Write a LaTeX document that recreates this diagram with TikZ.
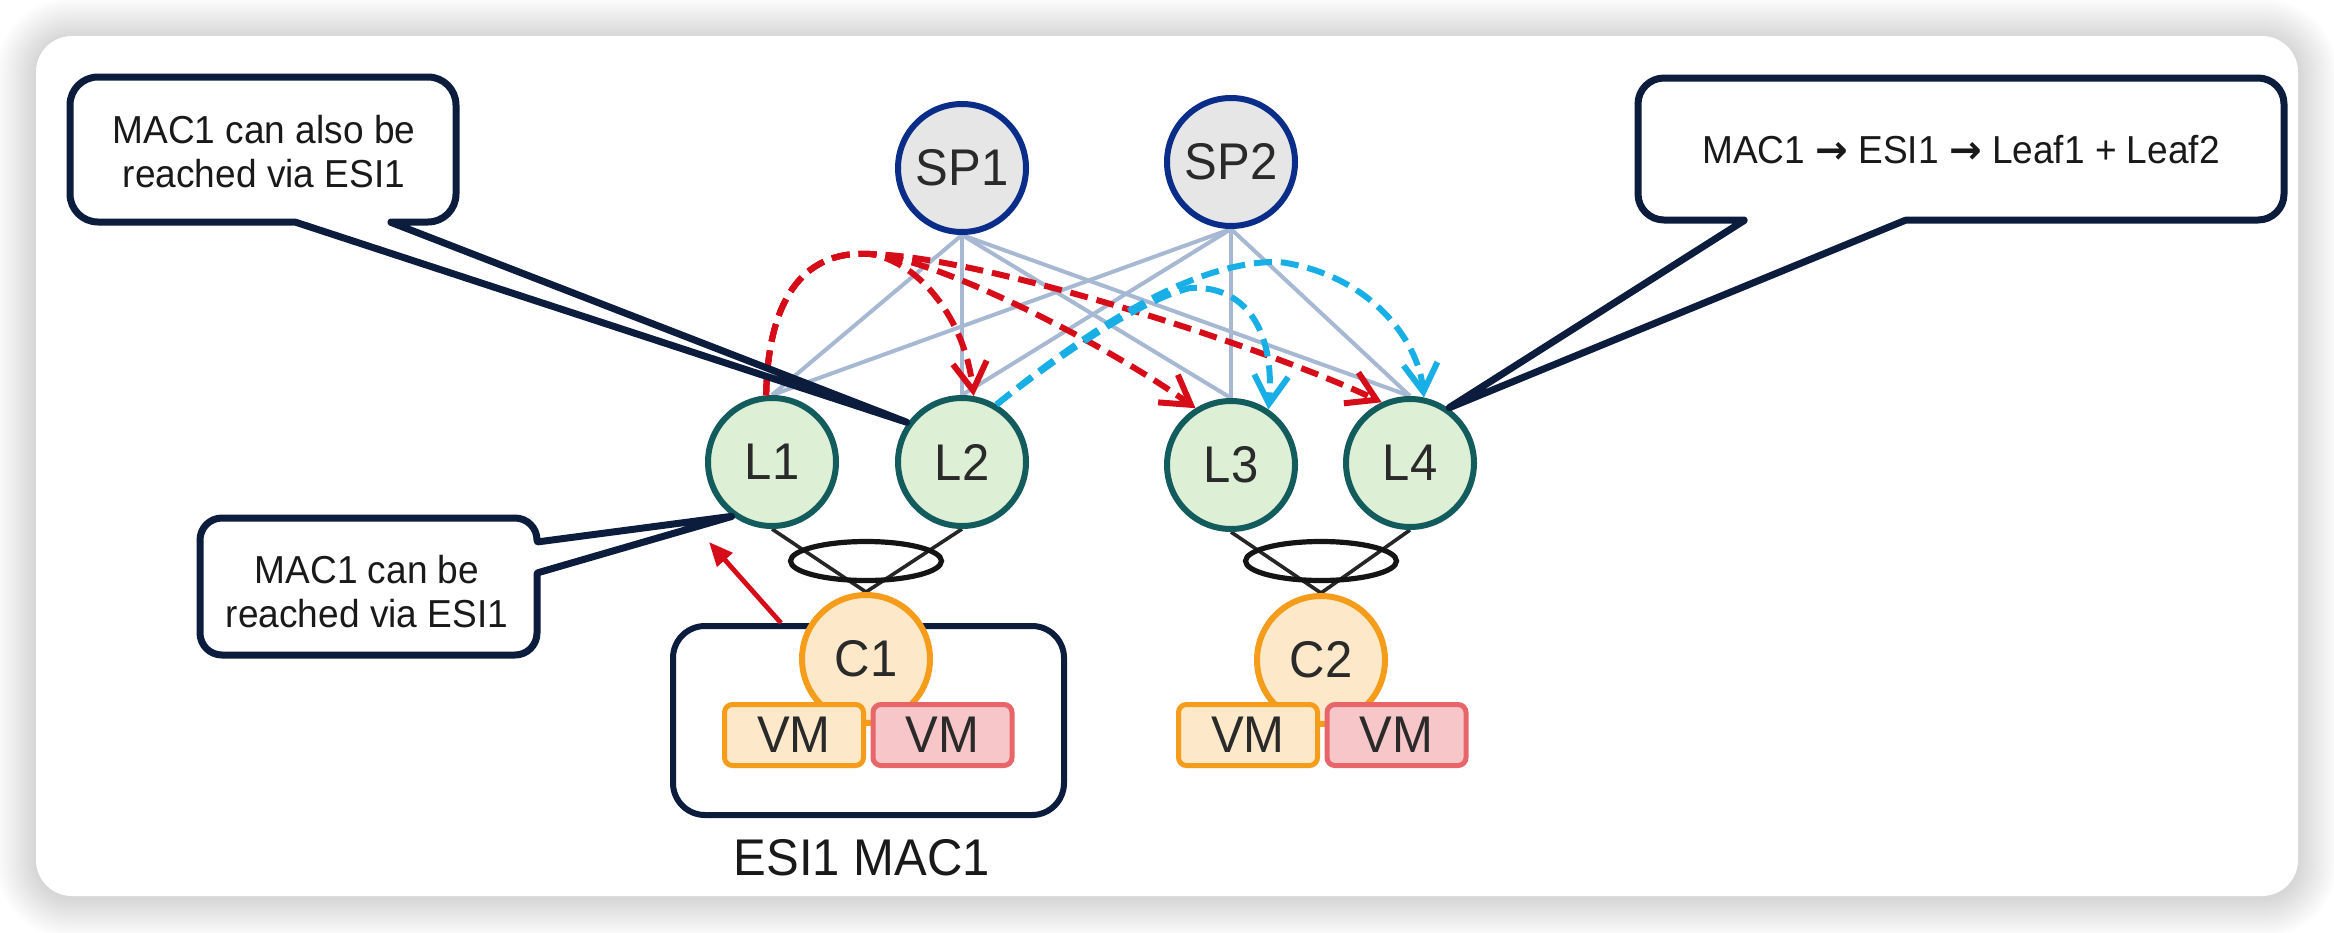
\documentclass[tikz,border=0pt]{standalone}
\usepackage{fontspec}
\setmainfont{Liberation Sans}[FakeStretch=0.95]
\newfontfamily\arrowfont{DejaVu Sans}
\usetikzlibrary{arrows.meta,shapes.geometric}
\pgfdeclarelayer{bgcard}
\pgfdeclarelayer{bglines}
\pgfsetlayers{bgcard,bglines,main}
\definecolor{spfill}{HTML}{E6E6E6}
\definecolor{spdraw}{HTML}{0B2D8A}
\definecolor{lffill}{HTML}{DDEFD5}
\definecolor{lfdraw}{HTML}{135C5E}
\definecolor{orfill}{HTML}{FDE9C9}
\definecolor{ordraw}{HTML}{F59C1A}
\definecolor{rdfill}{HTML}{F6C6C8}
\definecolor{rddraw}{HTML}{E8666A}
\definecolor{uplinkc}{HTML}{A6B8D2}
\definecolor{redc}{HTML}{D70C19}
\definecolor{bluec}{HTML}{18AEE6}
\definecolor{navy}{HTML}{0C1C3D}
\definecolor{txt}{HTML}{2A2A2A}
\begin{document}
\begin{tikzpicture}[x=0.5pt,y=-0.5pt,
  nodefont/.style={font=\fontsize{25.8}{30}\selectfont, text=txt},
  spine/.style={circle, draw=spdraw, fill=spfill, line width=3pt, minimum size=64pt, inner sep=0pt, nodefont},
  leaf/.style={circle, draw=lfdraw, fill=lffill, line width=3pt, minimum size=64pt, inner sep=0pt, nodefont},
  cnode/.style={circle, draw=ordraw, fill=orfill, line width=3pt, minimum size=64pt, inner sep=0pt, nodefont},
  vmo/.style={rectangle, rounded corners=4pt, draw=ordraw, fill=orfill, line width=2.5pt, minimum width=69.5pt, minimum height=30.5pt, inner sep=0pt, nodefont},
  vmr/.style={rectangle, rounded corners=4pt, draw=rddraw, fill=rdfill, line width=2.5pt, minimum width=69.5pt, minimum height=30.5pt, inner sep=0pt, nodefont},
  esibox/.style={rectangle, rounded corners=16pt, draw=navy, line width=3pt, minimum width=195.5pt, minimum height=94.5pt, inner sep=0pt},
  pchan/.style={ellipse, draw=black!92, line width=2.6pt, minimum width=75.5pt, minimum height=19.5pt, inner sep=0pt},
  uplink/.style={draw=uplinkc, line width=2pt},
  member/.style={draw=black!85, line width=1.8pt},
  reddash/.style={draw=redc, line width=3pt, dash pattern=on 9pt off 4.5pt, -{Straight Barb[length=14pt,width=17pt]}},
  bluedash/.style={draw=bluec, line width=3pt, dash pattern=on 9pt off 4.5pt, -{Straight Barb[length=14pt,width=17pt]}},
  redsolid/.style={draw=redc, line width=2.4pt, -{Triangle[length=12pt,width=10pt]}},
  callout/.style={draw=navy, line width=3.5pt, line join=round},
  calltext/.style={font=\fontsize{19.5}{22}\selectfont, align=center, text=black!90},
  labeltext/.style={font=\fontsize{25.8}{30}\selectfont, text=black!90}
]
\useasboundingbox (0,0) rectangle (2334,932);

% card with soft shadow
\begin{pgfonlayer}{bgcard}
\fill[white] (0,0) rectangle (2334,932);
\foreach \i in {1,...,20}{
  \pgfmathsetmacro\rr{18+\i}
  \fill[black,opacity=0.009,rounded corners=\rr pt] ({36-2*\i},{38-2*\i}) rectangle ({2298+2*\i},{898+2*\i});
}
\fill[white, rounded corners=18pt] (36,36) rectangle (2298,896);
\end{pgfonlayer}

% nodes
\node[esibox] (esi) at (868.5,720.5) {};
\node[spine] (SP1) at (962,168) {SP1};
\node[spine] (SP2) at (1231,162) {SP2};
\node[leaf] (L1) at (772,462) {L1};
\node[leaf] (L2) at (962,462) {L2};
\node[leaf] (L3) at (1231,465) {L3};
\node[leaf] (L4) at (1410,463) {L4};
\node[cnode] (C1) at (866,659) {C1};
\node[cnode] (C2) at (1321,660) {C2};
\node[vmo] (vm1) at (794,735) {VM};
\node[vmr] (vm2) at (942.5,735) {VM};
\node[vmo] (vm3) at (1248,735) {VM};
\node[vmr] (vm4) at (1396.5,735) {VM};
\node[pchan] (pc1) at (866,561) {};
\node[pchan] (pc2) at (1321,561) {};
\node[labeltext] (esilabel) at (862,858) {ESI1 MAC1};

% links
\begin{pgfonlayer}{bglines}
\foreach \s in {SP1,SP2}{
  \foreach \l in {L1,L2,L3,L4}{
    \draw[uplink] (\s.south) -- (\l.north);
  }
}
\draw[member] (L1.south) -- (C1.north);
\draw[member] (L2.south) -- (C1.north);
\draw[member] (L3.south) -- (C2.north);
\draw[member] (L4.south) -- (C2.north);
\end{pgfonlayer}

% red dashed advertisements from L1
\draw[reddash] (L1.95) .. controls (768,290) and (810,250) .. (870,254) .. controls (920,262) and (965,320) .. (L2.80);
\draw[reddash] (L1.95) .. controls (768,290) and (810,250) .. (870,254) .. controls (930,256) and (1100,340) .. (L3.122);
\draw[reddash] (L1.95) .. controls (768,290) and (810,250) .. (870,254) .. controls (980,256) and (1260,345) .. (L4.115);

% blue dashed advertisements from L2
\draw[bluedash] (L2.59) .. controls (1060,355) and (1140,300) .. (1190,288) .. controls (1245,285) and (1275,330) .. (L3.56);
\draw[bluedash] (L2.59) .. controls (1100,320) and (1200,260) .. (1280,262) .. controls (1370,275) and (1418,340) .. (L4.78);

% red solid arrow from ESI
\coordinate (arrtip) at (709,542);
\draw[redsolid] ([xshift=55.5pt]esi.north west) -- (arrtip);

% callouts
\draw[callout] (263,77) [rounded corners=14pt] -- (456,77) -- (456,222) [rounded corners=0.5pt] -- (390,222) -- (L2.144) -- (295,222) [rounded corners=14pt] -- (70,222) -- (70,77) -- cycle;
\node[calltext] (t1) at (264,152) {MAC1 can also be\\reached via ESI1};

\draw[callout] (200,586) [rounded corners=11pt] -- (200,518) -- (537,518) [rounded corners=0.5pt] -- (537,542) -- (L1.234) -- (537,573) [rounded corners=11pt] -- (537,655) -- (200,655) -- cycle;
\node[calltext] (t2) at (367,592) {MAC1 can be\\reached via ESI1};

\draw[callout] (1960,78) [rounded corners=13pt] -- (2284,78) -- (2284,220) [rounded corners=0.5pt] -- (1906,220) -- (L4.55) -- (1745,220) [rounded corners=13pt] -- (1638,220) -- (1638,78) -- cycle;
\node[calltext] (t3) at (1961,150) {MAC1 {\arrowfont\bfseries →} ESI1 {\arrowfont\bfseries →} Leaf1 + Leaf2};
\end{tikzpicture}
\end{document}
